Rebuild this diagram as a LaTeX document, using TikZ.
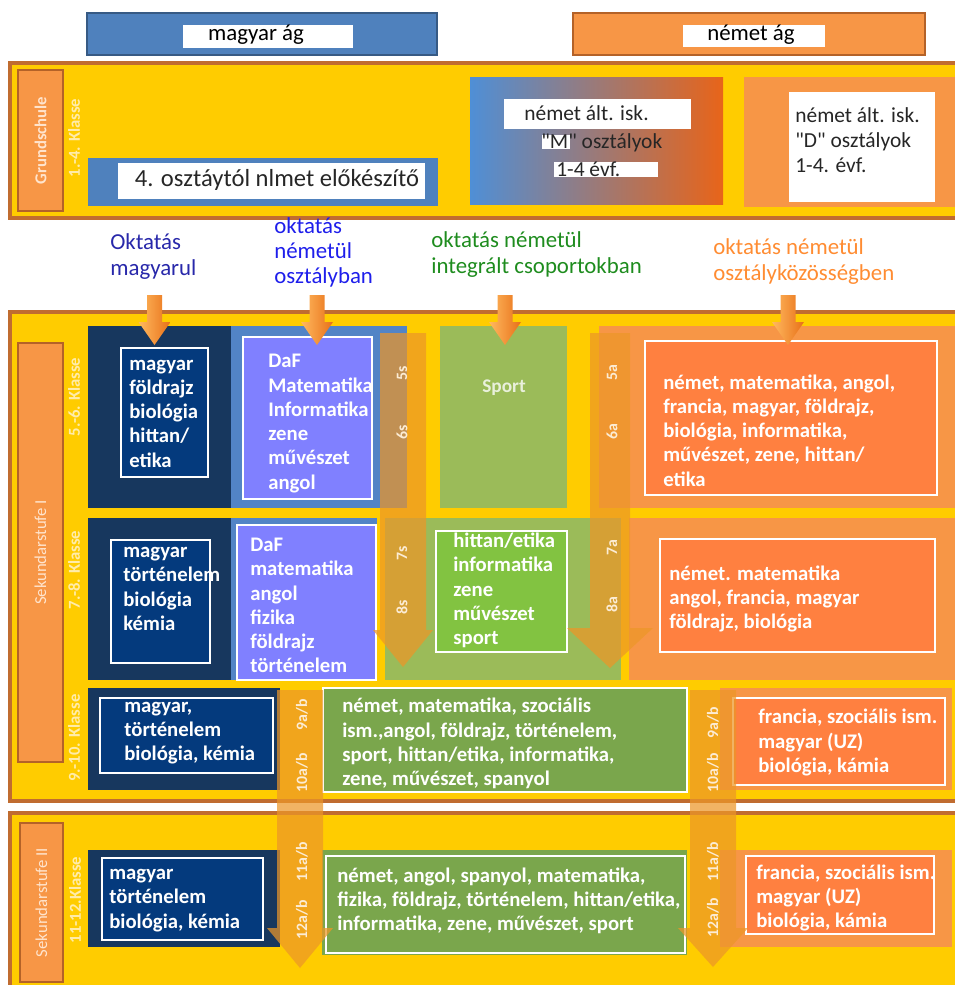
\documentclass[tikz,border=0pt]{standalone}
\usepackage{fontspec}
\setmainfont{Carlito}[Ligatures=TeXOff]
\usetikzlibrary{positioning}
\definecolor{gold}{RGB}{255,204,0}
\definecolor{bandline}{RGB}{192,108,48}
\definecolor{tabfill}{RGB}{247,150,70}
\definecolor{tabline}{RGB}{180,98,40}
\definecolor{tabtext}{RGB}{255,228,205}
\definecolor{navybg}{RGB}{23,55,94}
\definecolor{navyin}{RGB}{4,58,125}
\definecolor{hublue}{RGB}{79,129,189}
\definecolor{midblue}{RGB}{82,132,198}
\definecolor{lilac}{RGB}{128,128,255}
\definecolor{grnbg}{RGB}{155,187,89}
\definecolor{grnin}{RGB}{130,195,65}
\definecolor{grndk}{RGB}{122,166,76}
\definecolor{orgbg}{RGB}{247,150,70}
\definecolor{orgin}{RGB}{255,128,64}
\definecolor{gradl}{RGB}{79,143,214}
\definecolor{gradr}{RGB}{232,100,25}
\definecolor{arrfill}{RGB}{236,150,40}
\definecolor{arrtext}{RGB}{252,236,212}
\definecolor{arrlight}{RGB}{255,185,95}
\definecolor{arrdark}{RGB}{232,112,24}
\definecolor{paletext}{RGB}{255,236,170}
\definecolor{labhu}{RGB}{40,40,170}
\definecolor{labde}{RGB}{30,30,235}
\definecolor{labint}{RGB}{30,140,30}
\definecolor{labkoz}{RGB}{255,140,50}
\newcommand{\pxl}{0.02cm}
\newcommand{\subjfont}{\fontsize{11.8}{13.8}\selectfont\bfseries}
\newcommand{\labfont}{\fontsize{13}{14.4}\selectfont}
\newcommand{\headfont}{\fontsize{13}{15}\selectfont}
\newcommand{\gsfont}{\fontsize{14}{14.2}\selectfont}
\newcommand{\gsmfont}{\fontsize{12.2}{14.2}\selectfont}
\newcommand{\tabfont}{\fontsize{9.5}{10}\selectfont}
\newcommand{\klassefont}{\fontsize{9.5}{10}\selectfont\bfseries}
\newcommand{\arrfont}{\fontsize{9}{10}\selectfont\bfseries}
% block arrow: [style]{x}{top}{head base}{shaft half}{head half}{tip}
\newcommand{\blockarr}[7][bigarr]{%
	\path[#1] (#2-#5,#3) -- (#2+#5,#3) -- (#2+#5,#4) -- (#2+#6,#4) -- (#2,#7)
	-- (#2-#6,#4) -- (#2-#5,#4) -- cycle;}
\tikzset{
	box/.style 2 args={
		minimum width=#1*\pxl,
		minimum height=#2*\pxl
	},
	band/.style={
		rectangle,
		draw=bandline,
		line width=2pt,
		fill=gold,
		inner sep=0pt
	},
	tab/.style={
		rectangle,
		rotate=90,
		draw=tabline,
		line width=1.5pt,
		fill=tabfill,
		inner sep=0pt,
		text=tabtext,
		font=\tabfont
	},
	klasse/.style={
		rotate=90,
		text=paletext,
		font=\klassefont,
		inner sep=0pt
	},
	bg/.style={
		rectangle,
		inner sep=0pt
	},
	inbox/.style={
		rectangle,
		draw=white,
		line width=1pt,
		inner sep=0pt
	},
	subj/.style={
		anchor=west,
		align=left,
		text=white,
		font=\subjfont,
		inner sep=0pt
	},
	lab/.style={
		anchor=west,
		align=left,
		font=\labfont,
		inner sep=0pt
	},
	whitebox/.style={
		rectangle,
		fill=white,
		inner sep=0pt
	},
	gstext/.style={
		font=\gsfont,
		text=black!85,
		inner sep=0pt
	},
	bigarr/.style={
		fill=arrfill,
		fill opacity=0.72
	},
	smallarr/.style={
		left color=arrlight,
		right color=arrdark
	},
	arrlab/.style={
		rotate=90,
		text=arrtext,
		font=\arrfont,
		inner sep=0pt
	},
}

\begin{document}
\begin{tikzpicture}[x=\pxl,y=-\pxl]
\path[use as bounding box] (0,0) rectangle (955,985);
\clip (0,0) rectangle (955,985);

% bands
\node[band, box={952}{155}] (gsband) at (486,140.5) {};
\node[band, box={952}{489}] (sek1) at (486,556.5) {};
\node[band, box={952}{182}] (sek2) at (486,904) {};

\node[tab, box={141}{45}, font=\tabfont\bfseries] (gstab) at (40.5,140.5) {Grundschule};
\node[tab, box={419}{45}] (sek1tab) at (40.5,552.5) {Sekundarstufe I};
\node[tab, box={159}{43}] (sek2tab) at (41.5,902.5) {Sekundarstufe II};

\node[klasse] (k14) at (74,138) {1.-4. Klasse};
\node[klasse] (k56) at (74,397) {5.-6. Klasse};
\node[klasse] (k78) at (74,570) {7.-8. Klasse};
\node[klasse] (k910) at (74,738) {9.-10. Klasse};
\node[klasse] (k1112) at (75,900) {11-12.Klasse};

% headers
\node[bg, box={350}{42}, fill=hublue, draw=hublue!70!black, line width=1.2pt] (huhead) at (262,34) {};
\node[whitebox, box={170}{23}] (hutitle) at (268,36.5) {};
\node[font=\headfont, inner sep=0pt] (hutxt) at (256,35) {magyar ág};
\node[bg, box={352}{42}, fill=orgbg, draw=tabline, line width=1.2pt] (dehead) at (749,34) {};
\node[whitebox, box={142}{22}] (detitle) at (754,36) {};
\node[font=\headfont, inner sep=0pt] (detxt) at (751,35) {német ág};

% Grundschule
\node[bg, box={350}{48}, fill=hublue] (gshu) at (263,182) {};
\node[whitebox, box={307}{36}] (gshuw) at (271.5,181) {};
\node[gstext] (gshutxt) at (277,180) {4. osztáytól nlmet előkészítő};

\node[bg, box={253}{127}, left color=gradl, right color=gradr] (gsm) at (596.5,140.5) {};
\node[whitebox, box={187}{30}] (gsmw) at (597.5,114) {};
\node[gstext, font=\gsmfont, anchor=west] (gsmtxt1) at (524,113) {német ált. isk.};
\node[whitebox, box={28}{14}] (gsmhl1) at (556,142) {};
\node[gstext, font=\gsmfont, anchor=west] (gsmtxt2) at (541,143) {"M" osztályok};
\node[whitebox, box={104}{15}] (gsmhl2) at (606,169.5) {};
\node[gstext, font=\gsmfont, anchor=west] (gsmtxt3) at (556,169) {1-4 évf.};

\node[bg, box={218}{130}, fill=orgbg] (gsd) at (853,142) {};
\node[whitebox, box={146}{110}] (gsdw) at (862,147) {};
\node[gstext, font=\gsmfont, anchor=west, align=left] (gsdtxt) at (795,140) {német ált. isk.\\"D" osztályok\\1-4. évf.};

% labels
\node[lab, text=labhu] (lbhu) at (110,256.5) {Oktatás\\magyarul};
\node[lab, text=labde] (lbde) at (274,252.5) {oktatás\\németül\\osztályban};
\node[lab, text=labint] (lbint) at (431,254.5) {oktatás németül\\integrált csoportokban};
\node[lab, text=labkoz] (lbkoz) at (713,261.5) {oktatás németül\\osztályközösségben};

% 5.-6. Klasse
\node[bg, box={143}{182}, fill=navybg] (r1hu) at (159.5,417) {};
\node[bg, box={176}{182}, fill=midblue] (r1de) at (319,417) {};
\node[bg, box={127}{182}, fill=grnbg] (r1int) at (503.5,417) {};
\node[bg, box={363}{182}, fill=orgbg] (r1koz) at (780.5,417) {};
\node[inbox, box={87}{129}, fill=navyin] (hu56) at (164.5,412.5) {};
\node[inbox, box={129}{162}, fill=lilac] (de56) at (307.5,418) {};
\node[inbox, box={292}{154}, fill=orgin] (koz56) at (791,418) {};
\node[subj] (hu56txt) at (129,413.5) {magyar\\földrajz\\biológia\\hittan/\\etika};
\node[subj] (de56txt) at (268,423.5) {DaF\\Matematika\\Informatika\\zene\\művészet\\angol};
\node[font=\fontsize{11}{12}\selectfont\bfseries, text=white!78!grnbg, inner sep=0pt] (sport56) at (504,388) {Sport};
\node[subj] (koz56txt) at (663,430.5) {német, matematika, angol,\\francia, magyar, földrajz,\\biológia, informatika,\\művészet, zene, hittan/\\etika};

% 7.-8. Klasse
\node[bg, box={143}{162}, fill=navybg] (r2hu) at (159.5,599) {};
\node[bg, box={146}{162}, fill=midblue] (r2de) at (304,599) {};
\node[bg, box={236}{162}, fill=grnbg] (r2int) at (503,599) {};
\node[bg, box={333}{162}, fill=orgbg] (r2koz) at (795.5,599) {};
\node[inbox, box={99}{123}, fill=navyin] (hu78) at (160.5,601.5) {};
\node[inbox, box={139}{155}, fill=lilac] (de78) at (306.5,602.5) {};
\node[inbox, box={131}{121}, fill=grnin] (int78) at (501.5,591.5) {};
\node[inbox, box={275}{113}, fill=orgin] (koz78) at (797.5,595.5) {};
\node[subj] (hu78txt) at (123,589) {magyar\\történelem\\biológia\\kémia};
\node[subj] (de78txt) at (250,605.5) {DaF\\matematika\\angol\\fizika\\földrajz\\történelem};
\node[subj] (int78txt) at (453,590.5) {hittan/etika\\informatika\\zene\\művészet\\sport};
\node[subj] (koz78txt) at (669,599) {német. matematika\\angol, francia, magyar\\földrajz, biológia};

% 9.-10. Klasse
\node[bg, box={192}{102}, fill=navybg] (r3hu) at (184,739) {};
\node[bg, box={232}{102}, fill=orgbg] (r3koz) at (836,739) {};
\node[inbox, box={173}{75}, fill=navyin] (hu910) at (186.5,735.5) {};
\node[inbox, box={364}{104}, fill=grndk] (int910) at (505,740) {};
\node[inbox, box={212}{87}, fill=orgin] (koz910) at (839,741.5) {};
\node[subj] (hu910txt) at (124,733) {magyar,\\történelem\\biológia, kémia};
\node[subj] (int910txt) at (342,743.5) {német, matematika, szociális\\ism.,angol, földrajz, történelem,\\sport, hittan/etika, informatika,\\zene, művészet, spanyol};
\node[subj] (koz910txt) at (758,742.5) {francia, szociális ism.\\magyar (UZ)\\biológia, kámia};

% 11.-12. Klasse
\node[bg, box={192}{97}, fill=navybg] (r4hu) at (184,898.5) {};
\node[bg, box={365}{105}, fill=grndk] (r4int) at (504.5,902.5) {};
\node[bg, box={232}{97}, fill=orgbg] (r4koz) at (836,898.5) {};
\node[inbox, box={161}{82}, fill=navyin] (hu1112) at (182.5,899) {};
\node[inbox, box={359}{97}, fill=grndk] (int1112) at (505.5,904.5) {};
\node[inbox, box={188}{78}, fill=orgin] (koz1112) at (840,895) {};
\node[subj] (hu1112txt) at (109,900.5) {magyar\\történelem\\biológia, kémia};
\node[subj] (int1112txt) at (337,901) {német, angol, spanyol, matematika,\\fizika, földrajz, történelem, hittan/etika,\\informatika, zene, művészet, sport};
\node[subj] (koz1112txt) at (756,898) {francia, szociális ism.\\magyar (UZ)\\biológia, kámia};

% class arrows
\blockarr{403}{333}{630}{23}{30}{667}
\blockarr{610}{333}{628}{20}{43}{668}
\blockarr{300}{690}{928}{23}{33}{968}
\blockarr{713}{690}{928}{23}{35}{967}
\node[arrlab] (c5s) at (402,373) {5s};
\node[arrlab] (c6s) at (402,432) {6s};
\node[arrlab] (c7s) at (402,553) {7s};
\node[arrlab] (c8s) at (402,607) {8s};
\node[arrlab] (c5a) at (612,373) {5a};
\node[arrlab] (c6a) at (612,432) {6a};
\node[arrlab] (c7a) at (612,548) {7a};
\node[arrlab] (c8a) at (612,605) {8a};
\node[arrlab] (c9l) at (302,715) {9a/b};
\node[arrlab] (c10l) at (302,773) {10a/b};
\node[arrlab] (c11l) at (302,862) {11a/b};
\node[arrlab] (c12l) at (302,920) {12a/b};
\node[arrlab] (c9r) at (713,723) {9a/b};
\node[arrlab] (c10r) at (713,773) {10a/b};
\node[arrlab] (c11r) at (713,862) {11a/b};
\node[arrlab] (c12r) at (713,918) {12a/b};

% label arrows
\blockarr[smallarr]{154.5}{295}{322}{7.5}{16}{345}
\blockarr[smallarr]{317}{295}{322}{7.5}{16}{345}
\blockarr[smallarr]{505}{295}{322}{7.5}{16}{345}
\blockarr[smallarr]{788}{295}{322}{7.5}{16}{345}
\end{tikzpicture}
\end{document}
